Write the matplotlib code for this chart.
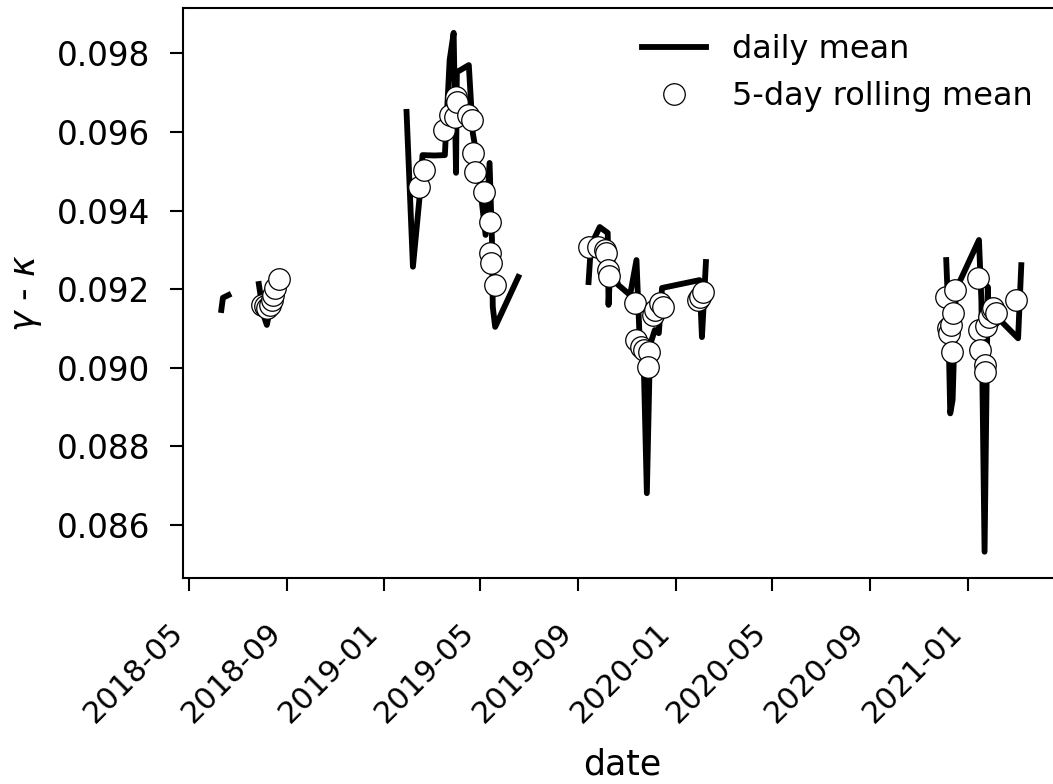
#!/usr/bin/env python3
"""Daily mean of gamma - kappa with its 5-day rolling mean."""

import numpy as np
import pandas as pd
import matplotlib
matplotlib.use("Agg")
import matplotlib.pyplot as plt
import matplotlib.dates as mdates

# daily mean (NaN rows break the line between observation periods)
daily_dates = [
    "2018-06-11", "2018-06-13", "2018-06-20",
    "2018-07-10",
    "2018-07-28", "2018-07-31", "2018-08-04", "2018-08-07", "2018-08-12",
    "2018-08-18", "2018-08-23",
    "2018-11-01",
    "2019-01-29", "2019-02-06", "2019-02-14", "2019-02-18", "2019-03-05",
    "2019-03-18", "2019-03-20", "2019-03-24", "2019-03-29", "2019-04-01",
    "2019-04-02", "2019-04-17", "2019-04-22", "2019-04-29", "2019-05-03",
    "2019-05-08", "2019-05-13", "2019-05-16", "2019-05-17", "2019-05-20",
    "2019-06-18",
    "2019-08-01",
    "2019-09-14", "2019-09-17", "2019-09-28", "2019-10-08", "2019-10-09",
    "2019-10-12", "2019-10-21", "2019-11-05", "2019-11-13", "2019-11-17",
    "2019-11-22", "2019-11-26", "2019-11-30", "2019-12-06", "2019-12-11",
    "2019-12-15", "2020-01-31", "2020-02-03", "2020-02-08",
    "2020-06-01",
    "2020-12-05", "2020-12-07", "2020-12-10", "2020-12-13", "2020-12-17",
    "2021-01-15", "2021-01-18", "2021-01-22", "2021-01-26", "2021-01-28",
    "2021-02-10", "2021-03-05", "2021-03-09",
]
daily_vals = [
    0.09147, 0.09178, 0.09185,
    np.nan,
    0.09213, 0.09172, 0.09127, 0.09109, 0.09160,
    0.09198, 0.09218,
    np.nan,
    0.09651, 0.09257, 0.09427, 0.09541, 0.09540,
    0.09541, 0.09623, 0.09783, 0.09852, 0.09496,
    0.09752, 0.09770, 0.09597, 0.09516, 0.09427,
    0.09338, 0.09521, 0.09325, 0.09155, 0.09104,
    0.09231,
    np.nan,
    0.09218, 0.09312, 0.09358, 0.09343, 0.09160,
    0.09287, 0.09211, 0.09185, 0.09274, 0.09071,
    0.09020, 0.08681, 0.09058, 0.09096, 0.09088,
    0.09203, 0.09223, 0.09078, 0.09269,
    np.nan,
    0.09274, 0.09172, 0.08884, 0.08918, 0.09198,
    0.09325, 0.09172, 0.08532, 0.09206, 0.09088,
    0.09122, 0.09075, 0.09261,
]

# 5-day rolling mean
roll_dates = [
    "2018-08-01", "2018-08-05", "2018-08-07", "2018-08-11", "2018-08-13",
    "2018-08-15", "2018-08-17", "2018-08-22",
    "2019-02-13", "2019-02-20", "2019-03-17", "2019-03-25", "2019-03-31",
    "2019-04-01", "2019-04-02", "2019-04-16", "2019-04-21", "2019-04-22",
    "2019-04-25", "2019-05-06", "2019-05-13", "2019-05-14", "2019-05-15",
    "2019-05-20",
    "2019-09-14", "2019-09-26", "2019-10-04", "2019-10-06", "2019-10-08",
    "2019-10-09", "2019-11-11", "2019-11-13", "2019-11-19", "2019-11-23",
    "2019-11-29", "2019-11-27", "2019-12-04", "2019-12-06", "2019-12-12",
    "2019-12-16", "2020-01-29", "2020-01-31", "2020-02-04",
    "2020-12-05", "2020-12-16", "2020-12-07", "2020-12-09", "2020-12-11",
    "2020-12-13", "2020-12-12", "2021-01-14", "2021-01-15", "2021-01-16",
    "2021-01-22", "2021-01-23", "2021-01-24", "2021-01-28", "2021-01-31",
    "2021-02-02", "2021-02-05", "2021-03-03",
]
roll_vals = [
    0.09160, 0.09157, 0.09152, 0.09160, 0.09172,
    0.09185, 0.09203, 0.09226,
    0.09461, 0.09503, 0.09605, 0.09643, 0.09639,
    0.09690, 0.09677, 0.09643, 0.09630, 0.09546,
    0.09497, 0.09448, 0.09372, 0.09291, 0.09266,
    0.09211,
    0.09308, 0.09308, 0.09300, 0.09291, 0.09249,
    0.09233, 0.09164, 0.09071, 0.09054, 0.09045,
    0.09041, 0.09003, 0.09134, 0.09147, 0.09164,
    0.09155, 0.09172, 0.09181, 0.09194,
    0.09181, 0.09198, 0.09100, 0.09088, 0.09109,
    0.09139, 0.09041, 0.09228, 0.09096, 0.09045,
    0.09007, 0.08990, 0.09105, 0.09130, 0.09147,
    0.09151, 0.09139, 0.09172,
]

yticks = [0.086, 0.088, 0.090, 0.092, 0.094, 0.096, 0.098]
xlim = ("2018-04-24", "2021-04-29")
ylim = (0.084644, 0.099165)

plt.rcParams["font.family"] = ["DejaVu Sans"]
plt.rcParams["font.size"] = 23
plt.rcParams["mathtext.fontset"] = "dejavusans"

fig = plt.figure(figsize=(10.53, 7.84), dpi=100)
# right edge of the axes runs slightly past the figure, as in the original
ax = fig.add_axes([0.17379, 0.26237, 0.83476, 0.72806])

ax.plot(pd.to_datetime(daily_dates), daily_vals, color="black", lw=4.2,
        label="daily mean", zorder=2)
ax.plot(pd.to_datetime(roll_dates), roll_vals, ls="none", marker="o",
        ms=15.5, mfc="white", mec="black", mew=0.9,
        label="5-day rolling mean", zorder=3)

ax.set_xlim(pd.to_datetime(xlim[0]), pd.to_datetime(xlim[1]))
ax.set_ylim(*ylim)
ax.set_yticks(yticks)
ax.set_yticklabels([f"{v:.3f}" for v in yticks])
ax.xaxis.set_major_locator(mdates.MonthLocator(bymonth=[1, 5, 9]))
ax.xaxis.set_major_formatter(mdates.DateFormatter("%Y-%m"))
plt.setp(ax.get_xticklabels(), rotation=45, ha="right")

for sp in ax.spines.values():
    sp.set_linewidth(1.5)
ax.tick_params(axis="both", length=9.5, width=1.5)
ax.tick_params(axis="y", pad=14, labelsize=23.5)
ax.tick_params(axis="x", pad=19, labelsize=22)

ax.set_xlabel("date", fontsize=25, labelpad=14)
ax.set_ylabel(r"$\gamma$ - $\kappa$", fontsize=25, labelpad=9)

ax.legend(loc="upper right", bbox_to_anchor=(0.9807, 0.9755),
          borderaxespad=0, frameon=False, fontsize=23)

fig.savefig("out.png", dpi=100)
